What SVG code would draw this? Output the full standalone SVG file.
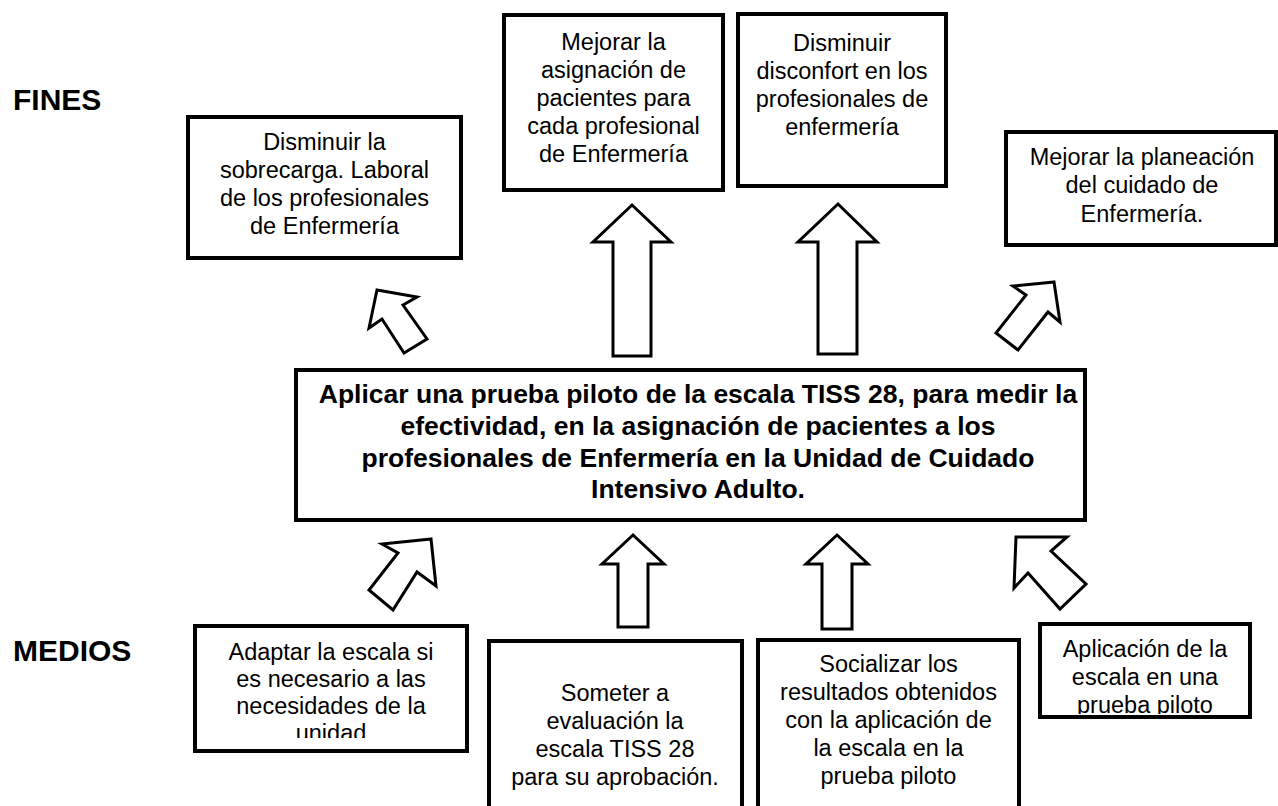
<svg xmlns="http://www.w3.org/2000/svg" width="1278" height="806" viewBox="0 0 1278 806">
<style>
.box{fill:#fff;stroke:#000;stroke-width:4}
.arr{fill:#fff;stroke:#000;stroke-width:3;stroke-linejoin:miter}
.t{font-family:"Liberation Sans",Arial,sans-serif;font-size:23.5px;fill:#000;text-anchor:middle}
.b{font-family:"Liberation Sans",Arial,sans-serif;font-size:26.5px;font-weight:bold;fill:#000;text-anchor:middle}
.lbl{font-family:"Liberation Sans",Arial,sans-serif;font-size:30px;font-weight:bold;fill:#000}
</style>
<defs>
<clipPath id="clipA"><rect x="190" y="620" width="280" height="118"/></clipPath>
<clipPath id="clipD"><rect x="1036" y="620" width="220" height="94"/></clipPath>
</defs>
<rect x="0" y="0" width="1278" height="806" fill="#fff"/>
<text class="lbl" x="13" y="110">FINES</text>
<text class="lbl" x="13" y="661">MEDIOS</text>

<g id="connectors">
<polygon class="arr" points="632,205 593,242 613,242 613,356 651,356 651,242 671,242"/>
<polygon class="arr" points="838,204 798,242 818,242 818,354 857,354 857,242 877,242"/>
<polygon class="arr" points="377,290 417,297 403,305 427,339 404,353 382,319 369,328"/>
<polygon class="arr" points="1054,282 1013,286 1026,295 996,333 1018,350 1048,312 1060,322"/>
<polygon class="arr" points="633,535 602,564 618,564 618,627 648,627 648,564 664,564"/>
<polygon class="arr" points="837,535 806,564 822,564 822,629 852,629 852,564 868,564"/>
<polygon class="arr" points="431,539 382,544 398,553 369,590 393,610 417,572 436,586"/>
<polygon class="arr" points="1016,537 1067,537 1051,551 1086,584 1060,609 1028,573 1014,588"/>
</g>

<g id="fin1">
<rect class="box" x="188" y="117" width="273" height="141"/>
<text class="t" x="324.5" y="150">Disminuir la</text>
<text class="t" x="324.5" y="178">sobrecarga. Laboral</text>
<text class="t" x="324.5" y="206">de los profesionales</text>
<text class="t" x="324.5" y="234">de Enfermería</text>
</g>

<g id="fin2">
<rect class="box" x="504" y="15" width="219" height="175"/>
<text class="t" x="613.5" y="50">Mejorar la</text>
<text class="t" x="613.5" y="78">asignación de</text>
<text class="t" x="613.5" y="106">pacientes para</text>
<text class="t" x="613.5" y="134">cada profesional</text>
<text class="t" x="613.5" y="162">de Enfermería</text>
</g>

<g id="fin3">
<rect class="box" x="738" y="14" width="208" height="172"/>
<text class="t" x="842" y="51">Disminuir</text>
<text class="t" x="842" y="79">disconfort en los</text>
<text class="t" x="842" y="107">profesionales de</text>
<text class="t" x="842" y="135">enfermería</text>
</g>

<g id="fin4">
<rect class="box" x="1006" y="132" width="270" height="113"/>
<text class="t" x="1142" y="165">Mejorar la planeación</text>
<text class="t" x="1142" y="193">del cuidado de</text>
<text class="t" x="1142" y="222">Enfermería.</text>
</g>

<g id="objetivo">
<rect class="box" x="296" y="370" width="789" height="150"/>
<text class="b" x="698" y="403">Aplicar una prueba piloto de la escala TISS 28, para medir la</text>
<text class="b" x="698" y="435">efectividad, en la asignación de pacientes a los</text>
<text class="b" x="698" y="467">profesionales de Enfermería en la Unidad de Cuidado</text>
<text class="b" x="698" y="498">Intensivo Adulto.</text>
</g>

<g id="medio1">
<rect class="box" x="195" y="626" width="272" height="125"/>
<g clip-path="url(#clipA)">
<text class="t" x="331" y="660">Adaptar la escala si</text>
<text class="t" x="331" y="687">es necesario a las</text>
<text class="t" x="331" y="714">necesidades de la</text>
<text class="t" x="331" y="741">unidad</text>
</g>
</g>

<g id="medio2">
<rect class="box" x="489" y="641" width="253" height="200"/>
<text class="t" x="615" y="701">Someter a</text>
<text class="t" x="615" y="729">evaluación la</text>
<text class="t" x="615" y="757">escala TISS 28</text>
<text class="t" x="615" y="785">para su aprobación.</text>
</g>

<g id="medio3">
<rect class="box" x="758" y="640" width="261" height="200"/>
<text class="t" x="888.5" y="672">Socializar los</text>
<text class="t" x="888.5" y="700">resultados obtenidos</text>
<text class="t" x="888.5" y="728">con la aplicación de</text>
<text class="t" x="888.5" y="756">la escala en la</text>
<text class="t" x="888.5" y="784">prueba piloto</text>
</g>

<g id="medio4">
<rect class="box" x="1040" y="624" width="210" height="93"/>
<g clip-path="url(#clipD)">
<text class="t" x="1145" y="657">Aplicación de la</text>
<text class="t" x="1145" y="685">escala en una</text>
<text class="t" x="1145" y="713">prueba piloto</text>
</g>
</g>
</svg>
